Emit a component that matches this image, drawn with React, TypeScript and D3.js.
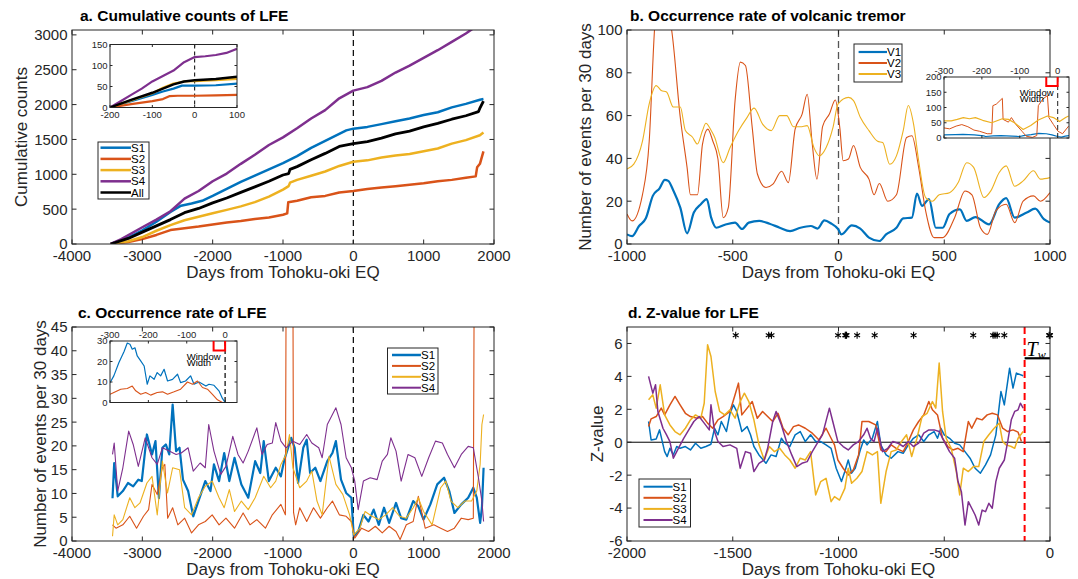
import React from 'react';
import * as d3 from 'd3';

type Pt = [number, number];

const FONT = '"Liberation Sans", Arial, Helvetica, sans-serif';
const AX = '#262626';
const BLUE = '#0072BD';
const ORANGE = '#D95319';
const YELLOW = '#EDB120';
const PURPLE = '#7E2F8E';

// ---------- panel a: cumulative counts ----------
const A_S1: Pt[] = [[-3450, 0], [-3200, 90], [-3000, 195], [-2800, 320], [-2600, 460], [-2450, 550], [-2300, 580], [-2150, 620], [-2000, 690], [-1800, 790], [-1600, 890], [-1400, 980], [-1200, 1070], [-1000, 1160], [-800, 1260], [-600, 1380], [-400, 1480], [-200, 1580], [-100, 1630], [0, 1655], [200, 1680], [400, 1720], [600, 1760], [800, 1800], [1000, 1850], [1200, 1890], [1400, 1960], [1600, 2010], [1800, 2070], [1850, 2080]];
const A_S2: Pt[] = [[-3450, 0], [-3200, 30], [-3000, 70], [-2800, 130], [-2600, 200], [-2400, 225], [-2200, 250], [-2000, 280], [-1800, 310], [-1600, 330], [-1400, 360], [-1200, 380], [-1000, 420], [-940, 440], [-925, 600], [-800, 620], [-600, 670], [-400, 690], [-200, 740], [0, 760], [200, 790], [400, 810], [600, 830], [800, 850], [1000, 870], [1200, 900], [1400, 920], [1600, 950], [1740, 970], [1760, 1100], [1800, 1150], [1850, 1330]];
const A_S3: Pt[] = [[-3450, 0], [-3200, 40], [-3000, 100], [-2800, 190], [-2600, 270], [-2400, 340], [-2200, 390], [-2000, 440], [-1800, 490], [-1600, 540], [-1400, 600], [-1200, 680], [-1000, 780], [-920, 830], [-900, 880], [-800, 920], [-600, 980], [-400, 1040], [-200, 1120], [0, 1180], [200, 1200], [400, 1240], [600, 1270], [800, 1290], [1000, 1330], [1200, 1370], [1400, 1440], [1600, 1490], [1800, 1560], [1850, 1600]];
const A_S4: Pt[] = [[-3450, 0], [-3300, 70], [-3000, 240], [-2800, 350], [-2600, 470], [-2400, 650], [-2200, 760], [-2000, 900], [-1800, 1010], [-1600, 1150], [-1400, 1280], [-1200, 1420], [-1000, 1530], [-800, 1660], [-600, 1800], [-400, 1920], [-200, 2090], [0, 2200], [200, 2250], [400, 2340], [600, 2460], [800, 2560], [1000, 2670], [1200, 2780], [1400, 2900], [1600, 3020], [1700, 3090], [1850, 3190]];
const A_ALL: Pt[] = [[-3450, 0], [-3200, 80], [-3000, 170], [-2800, 260], [-2600, 350], [-2400, 450], [-2200, 510], [-2000, 590], [-1800, 660], [-1600, 740], [-1400, 820], [-1200, 900], [-1000, 990], [-920, 1010], [-900, 1070], [-800, 1110], [-600, 1210], [-400, 1300], [-200, 1400], [0, 1440], [200, 1470], [400, 1520], [600, 1580], [800, 1620], [1000, 1680], [1200, 1730], [1400, 1790], [1600, 1840], [1780, 1900], [1800, 1950], [1850, 2050]];

const IA_S1: Pt[] = [[-200, 0], [-150, 15], [-100, 30], [-75, 38], [-50, 45], [-30, 52], [0, 52], [50, 53], [100, 57]];
const IA_S2: Pt[] = [[-200, 0], [-150, 8], [-100, 15], [-75, 20], [-60, 27], [-40, 28], [0, 28], [50, 29], [100, 30]];
const IA_S3: Pt[] = [[-200, 0], [-150, 17], [-100, 34], [-75, 47], [-50, 57], [-25, 62], [0, 63], [50, 65], [100, 68]];
const IA_S4: Pt[] = [[-200, 0], [-175, 15], [-150, 30], [-125, 45], [-100, 62], [-75, 75], [-50, 88], [-25, 108], [0, 120], [25, 122], [50, 125], [75, 130], [100, 140]];
const IA_ALL: Pt[] = [[-200, 0], [-150, 18], [-100, 35], [-75, 45], [-50, 55], [-25, 62], [0, 65], [50, 68], [100, 73]];

// ---------- panel b: volcanic tremor rate ----------
const B_V1: Pt[] = [[-1000, 4.5], [-976, 3.7], [-943, 8.4], [-911, 12], [-878, 22.5], [-846, 26], [-821, 30], [-805, 29.5], [-781, 25], [-748, 17], [-716, 5], [-684, 14.7], [-651, 18.6], [-623, 21], [-602, 12.3], [-578, 7.6], [-537, 9], [-489, 10], [-456, 7], [-424, 10], [-375, 10.8], [-326, 9.5], [-278, 7.6], [-229, 6], [-180, 7.6], [-131, 8.4], [-99, 7.2], [-67, 11], [-34, 9.5], [-2, 7], [14, 4.5], [63, 8.7], [103, 7.2], [144, 3], [193, 1.4], [225, 4.5], [274, 7.6], [306, 12], [347, 12.3], [371, 23.6], [395, 17.8], [428, 21], [460, 7.6], [493, 7.6], [525, 14], [574, 16.2], [606, 10.8], [647, 12.6], [712, 9.2], [760, 18.6], [793, 21.4], [833, 12.3], [890, 14.7], [930, 16.5], [971, 11.6], [1000, 10]];
const B_V2: Pt[] = [[-1000, 14], [-976, 10.8], [-927, 23], [-895, 48], [-870, 100], [-855, 118], [-820, 112], [-789, 100], [-748, 59], [-716, 35.8], [-700, 23], [-667, 23], [-643, 46.7], [-618, 53.7], [-594, 48], [-570, 39.7], [-545, 12.3], [-521, 17], [-489, 67], [-464, 85], [-440, 83.4], [-408, 54.5], [-383, 32.6], [-343, 26.4], [-310, 28], [-269, 34], [-237, 28.7], [-205, 53.7], [-172, 60.7], [-148, 70], [-124, 46.7], [-102, 30.3], [-75, 55], [-43, 60.7], [-15, 67.3], [6, 54.5], [22, 38.9], [47, 39.7], [71, 46], [103, 35.8], [144, 30.3], [168, 23], [193, 28.3], [233, 20], [274, 23], [322, 49.8], [347, 50.6], [379, 35.8], [412, 15.5], [452, 3], [493, 3], [549, 12.3], [598, 24.8], [631, 23], [671, 7.6], [704, 4.5], [744, 15.5], [793, 18.6], [833, 10], [873, 20], [922, 22.5], [955, 20], [1000, 24]];
const B_V3: Pt[] = [[-1000, 35], [-968, 37.3], [-927, 48], [-895, 65.5], [-862, 74], [-838, 71.7], [-813, 71], [-781, 64], [-748, 64], [-724, 53], [-691, 50], [-667, 46.7], [-643, 53], [-627, 56.4], [-602, 53], [-586, 50], [-545, 38], [-513, 45], [-472, 53], [-432, 59.2], [-399, 63.5], [-359, 56], [-318, 53], [-278, 60], [-245, 60], [-213, 54.8], [-180, 54.8], [-148, 55.3], [-116, 45], [-91, 41.2], [-59, 45], [-26, 54.5], [-2, 65.5], [47, 68.5], [71, 67], [103, 59.2], [144, 53], [185, 48], [209, 47.4], [242, 37.3], [274, 41.2], [306, 53], [330, 64.7], [355, 56], [379, 38.9], [412, 21.7], [444, 20], [476, 23], [525, 24], [566, 28.7], [606, 38], [639, 35.8], [688, 21.7], [720, 24.8], [760, 33.4], [793, 36.5], [833, 27], [873, 29.5], [922, 34.2], [955, 30.3], [1000, 31]];

const IB_V1: Pt[] = [[-300, 10], [-270, 11], [-250, 12], [-220, 10], [-195, 7], [-190, 5], [-170, 7], [-150, 8], [-120, 6], [-100, 5], [-90, 8], [-70, 11], [-50, 15], [-30, 14], [-15, 10], [0, 5], [10, 3], [20, 6], [30, 8]];
const IB_V2: Pt[] = [[-300, 33], [-285, 30], [-268, 39], [-253, 44], [-237, 37], [-221, 26], [-206, 22], [-186, 14], [-174, 14], [-171, 106], [-162, 111], [-146, 130], [-144, 61], [-130, 52], [-122, 67], [-110, 44], [-94, 22], [-83, 6], [-67, 2], [-55, 8], [-51, 106], [-39, 128], [-27, 139], [-23, 67], [-11, 44], [1, 22], [13, 14], [29, 39]];
const IB_V3: Pt[] = [[-300, 56], [-281, 56], [-265, 61], [-249, 67], [-233, 63], [-217, 67], [-198, 58], [-174, 50], [-146, 63], [-130, 61], [-114, 50], [-91, 28], [-71, 41], [-51, 59], [-27, 72], [-11, 67], [5, 54], [21, 67], [29, 72]];

// ---------- panel c: LFE rate ----------
const C_S1: Pt[] = [[-3424, 9], [-3400, 16.4], [-3350, 9.4], [-3277, 10.5], [-3204, 12.2], [-3130, 11.5], [-3057, 12.9], [-3008, 12.6], [-2935, 22.4], [-2862, 18.2], [-2813, 21], [-2764, 9], [-2715, 19.6], [-2666, 20.3], [-2617, 18.2], [-2569, 28.7], [-2520, 18.9], [-2471, 19.6], [-2422, 12.9], [-2349, 10.5], [-2276, 5.2], [-2202, 8.4], [-2105, 12.6], [-2031, 10.5], [-1982, 16.1], [-1909, 12.6], [-1836, 18.5], [-1763, 12.6], [-1689, 17.5], [-1592, 11.9], [-1494, 9.1], [-1396, 16.8], [-1323, 14.3], [-1274, 21], [-1201, 12.6], [-1103, 15.4], [-1030, 13.6], [-981, 17.1], [-883, 21.7], [-834, 19.6], [-786, 12.2], [-712, 19.6], [-663, 21.3], [-615, 14.3], [-541, 15.4], [-468, 12.6], [-370, 16.8], [-297, 18.5], [-248, 21], [-175, 12.9], [-102, 10.1], [-28, 9.1], [6, 1], [69, 2], [143, 5.5], [216, 4.1], [289, 6.6], [362, 3.4], [436, 7], [509, 3.8], [607, 8], [680, 4.8], [753, 4.5], [851, 8.4], [924, 7.3], [998, 4.5], [1095, 7.7], [1193, 11.9], [1290, 13.3], [1364, 10.5], [1437, 5.9], [1535, 7.7], [1633, 9.1], [1706, 11.2], [1755, 9.1], [1803, 3.8], [1828, 7], [1852, 15.4]];
const C_S2: Pt[] = [[-3424, 3.4], [-3375, 2.7], [-3277, 3.4], [-3179, 5.2], [-3082, 2.7], [-2984, 5.2], [-2911, 6.6], [-2862, 11.9], [-2788, 9.8], [-2715, 15.4], [-2680, 16.1], [-2640, 4.8], [-2569, 7], [-2495, 3.4], [-2398, 4.8], [-2300, 1.7], [-2202, 3.4], [-2105, 4.1], [-2007, 5.5], [-1909, 3.4], [-1811, 4.8], [-1689, 2.7], [-1567, 5.9], [-1470, 3.4], [-1372, 4.5], [-1250, 2.7], [-1152, 5.5], [-1030, 7.7], [-966, 5.5], [-950, 80], [-930, 95], [-905, 60], [-880, 90], [-862, 70], [-850, 6], [-820, 3.4], [-762, 7], [-663, 4.1], [-566, 7], [-468, 4.8], [-370, 7], [-297, 8.4], [-199, 5.5], [-102, 5.2], [-28, 4.1], [20, 0.6], [118, 2.7], [216, 2], [313, 3.1], [411, 1.7], [509, 3.1], [607, 2], [665, 0.3], [753, 3.4], [851, 4.1], [924, 9.4], [1022, 2.7], [1144, 3.4], [1242, 2.7], [1339, 2], [1437, 2.7], [1535, 4.8], [1633, 4.5], [1706, 4.8], [1722, 70], [1760, 80], [1852, 70]];
const C_S3: Pt[] = [[-3424, 1], [-3400, 5.5], [-3350, 3.4], [-3277, 4.5], [-3179, 9.1], [-3106, 7], [-3033, 8], [-2935, 12.2], [-2862, 13.6], [-2788, 5.5], [-2715, 16.8], [-2642, 10.1], [-2569, 15.4], [-2471, 15], [-2398, 7], [-2300, 5.5], [-2202, 9.1], [-2105, 11.5], [-2007, 12.6], [-1909, 9.1], [-1836, 7], [-1763, 10.8], [-1689, 6.2], [-1592, 8.4], [-1494, 6.6], [-1396, 9.1], [-1274, 13.6], [-1176, 11.2], [-1103, 12.6], [-1030, 16.1], [-957, 18.2], [-908, 22.4], [-859, 15.4], [-762, 11.2], [-663, 12.6], [-590, 14.7], [-517, 8.4], [-443, 5.5], [-346, 17.8], [-248, 11.9], [-150, 9.8], [-53, 5.5], [6, 1.3], [94, 2.7], [167, 6.2], [265, 5.2], [362, 4.5], [460, 5.5], [558, 7], [656, 5.2], [753, 4.8], [851, 7], [924, 9.1], [998, 6.2], [1120, 3.4], [1242, 11.2], [1315, 12.6], [1388, 8.4], [1486, 7], [1584, 8.4], [1681, 8.4], [1755, 10.5], [1803, 16.1], [1828, 24.5], [1852, 26.6]];
const C_S4: Pt[] = [[-3424, 18.2], [-3400, 20.6], [-3350, 10.5], [-3277, 15.4], [-3194, 23.1], [-3130, 20.3], [-3057, 15.7], [-2959, 21.7], [-2862, 17.5], [-2788, 16.1], [-2715, 19.6], [-2617, 18.9], [-2520, 18.2], [-2447, 18.5], [-2349, 19.6], [-2276, 14.7], [-2178, 16.4], [-2105, 15.4], [-2056, 24.5], [-1982, 18.9], [-1885, 14], [-1811, 15.7], [-1714, 22], [-1640, 18.2], [-1567, 16.4], [-1494, 18.9], [-1372, 23.8], [-1299, 18.2], [-1225, 20.3], [-1152, 20.6], [-1103, 24.9], [-1030, 21], [-957, 19.6], [-859, 21], [-762, 20.3], [-663, 22.4], [-590, 20.6], [-492, 19.6], [-443, 17.5], [-370, 24.5], [-248, 28], [-175, 24.5], [-102, 17.5], [-28, 15.4], [20, 12.6], [69, 6.6], [143, 12.6], [240, 13.3], [338, 12.9], [411, 16.8], [485, 18.2], [533, 21.7], [607, 18.9], [680, 12.6], [778, 18.2], [875, 17.5], [973, 13.6], [1071, 17.5], [1168, 21], [1266, 20.6], [1339, 18.2], [1437, 15.4], [1535, 18.2], [1633, 19.9], [1706, 19.6], [1779, 13.3], [1828, 8.4], [1852, 4.1]];

const IC_S1: Pt[] = [[-300, 9.7], [-290, 13], [-277, 19.4], [-263, 25], [-255, 29], [-248, 28.4], [-242, 26], [-235, 26.7], [-229, 22.7], [-220, 20.3], [-211, 17.8], [-203, 8.9], [-196, 13], [-185, 11.3], [-177, 14.6], [-168, 13], [-159, 16.2], [-150, 10.5], [-137, 11.3], [-124, 13.8], [-116, 9.7], [-103, 10.5], [-90, 13], [-81, 8.9], [-68, 10], [-50, 8], [-42, 8.9], [-29, 8.4], [-16, 5.7], [-7, 2], [0, 0], [30, 0]];
const IC_S2: Pt[] = [[-300, 4], [-290, 4.9], [-272, 6.5], [-255, 6.8], [-242, 8], [-233, 5.7], [-220, 4], [-207, 4.9], [-194, 3.6], [-177, 4.9], [-163, 5.2], [-150, 4], [-133, 5.2], [-116, 6.5], [-98, 10], [-85, 8.9], [-72, 10.5], [-59, 7.3], [-46, 6.5], [-33, 4], [-20, 1.3], [-7, 0], [30, 0]];

// ---------- panel d: Z-value ----------
const D_S1: Pt[] = [[-1898, 1.26], [-1886, 0.14], [-1862, 0.2], [-1846, 0.75], [-1822, -0.57], [-1810, -0.87], [-1797, -0.37], [-1781, -0.77], [-1765, -0.26], [-1749, -0.37], [-1724, -0.26], [-1700, -0.47], [-1676, -0.06], [-1651, -0.37], [-1627, -0.26], [-1603, -0.12], [-1586, 0.85], [-1570, 0.45], [-1554, 1.26], [-1530, 0.65], [-1513, 1.76], [-1497, 2.27], [-1481, 1.87], [-1457, 0.65], [-1432, 0.95], [-1416, 0.45], [-1400, -0.26], [-1376, -0.77], [-1343, -1.28], [-1319, -0.77], [-1295, -0.87], [-1270, 0.24], [-1254, -0.06], [-1230, -0.26], [-1205, 0.45], [-1181, 0.65], [-1157, 0.04], [-1132, 0.45], [-1108, 0.04], [-1084, 0.04], [-1059, -0.16], [-1035, -0.37], [-1011, -1.58], [-986, -2.39], [-970, -1.78], [-954, -1.08], [-938, -1.88], [-921, -1.58], [-897, -0.47], [-881, 0.14], [-865, -0.16], [-840, 0.24], [-816, 1.26], [-800, -0.16], [-775, -0.77], [-751, -0.97], [-719, -0.57], [-694, -0.67], [-670, -0.16], [-646, 0.24], [-621, 0.45], [-597, 0.04], [-573, 0.45], [-548, 0.65], [-532, 0.24], [-516, 0.85], [-500, 0.45], [-475, 0.24], [-451, -0.06], [-427, -0.16], [-402, -0.57], [-378, -0.97], [-354, -1.58], [-329, -1.88], [-305, -1.38], [-281, -0.77], [-256, 0.45], [-232, 3.08], [-216, 2.27], [-191, 4.5], [-175, 3.29], [-159, 4.2], [-127, 4.04]];
const D_S2: Pt[] = [[-1898, 0.95], [-1886, 1.42], [-1862, 1.56], [-1838, 2.07], [-1822, 1.66], [-1797, 2.27], [-1773, 2.78], [-1749, 2.27], [-1724, 1.76], [-1700, 1.56], [-1668, 1.46], [-1643, 1.56], [-1619, 1.16], [-1595, 0.85], [-1570, 1.36], [-1546, 1.56], [-1513, 1.87], [-1489, 2.88], [-1473, 3.59], [-1457, 1.66], [-1432, 2.07], [-1408, 2.47], [-1384, 1.46], [-1359, 1.87], [-1335, 1.56], [-1311, 1.26], [-1286, 1.76], [-1262, 0.85], [-1238, 0.45], [-1213, 0.95], [-1189, 1.05], [-1157, 0.85], [-1124, 0.55], [-1092, 0.14], [-1059, 0.85], [-1035, 0.24], [-1019, -0.16], [-1003, -1.08], [-978, -1.58], [-954, -1.99], [-930, -1.68], [-905, -0.77], [-889, 1.26], [-857, 1.26], [-824, 1.05], [-800, -0.47], [-775, -0.57], [-751, -0.16], [-727, -0.37], [-694, -0.57], [-670, 0.04], [-646, 0.75], [-621, 1.26], [-597, 1.66], [-573, 2.47], [-556, 1.97], [-532, 1.66], [-508, 0.24], [-483, -0.26], [-459, -0.47], [-435, -0.37], [-410, -0.57], [-386, 1.26], [-370, 0.85], [-346, 1.46], [-321, 1.36], [-297, 1.66], [-273, 1.76], [-248, 1.66], [-224, 0.85], [-200, 0.65], [-175, 0.75], [-151, 0.61], [-135, 0.04]];
const D_S3: Pt[] = [[-1898, 2.58], [-1878, 2.88], [-1862, 2.07], [-1843, 3.49], [-1822, 1.66], [-1797, 1.05], [-1773, 0.65], [-1749, 0.45], [-1724, 0.85], [-1700, 1.36], [-1676, 1.66], [-1651, 1.46], [-1635, 2.37], [-1619, 5.92], [-1603, 5.21], [-1583, 3.08], [-1562, 1.87], [-1538, 1.66], [-1513, 1.97], [-1489, 1.46], [-1465, 2.47], [-1445, 2.98], [-1424, 2.47], [-1400, 1.36], [-1376, -0.16], [-1351, -1.08], [-1327, -0.26], [-1303, -0.57], [-1278, -0.37], [-1254, -0.77], [-1230, -1.08], [-1205, -1.58], [-1181, -0.97], [-1157, -1.08], [-1132, -0.57], [-1108, -3.2], [-1084, -2.39], [-1059, -2.19], [-1035, -3.61], [-1019, -3.3], [-995, -3.51], [-970, -2.8], [-954, -1.58], [-938, -2.49], [-913, -2.19], [-889, -1.78], [-865, -0.57], [-840, -0.77], [-816, -0.57], [-800, -3.71], [-775, -1.78], [-751, -0.57], [-727, -0.47], [-702, 0.04], [-678, 0.45], [-654, -0.87], [-629, 0.24], [-605, 1.56], [-581, 1.76], [-556, 2.47], [-540, 2.07], [-524, 4.81], [-508, 1.87], [-491, 0.24], [-467, -0.37], [-443, -1.78], [-427, -3.2], [-410, -1.58], [-386, -1.78], [-362, -1.48], [-337, -1.48], [-313, 0.04], [-289, 0.45], [-264, 0.85], [-240, 1.16], [-224, 0.04], [-208, -0.16], [-183, -0.26], [-167, -0.37], [-151, 0.24], [-127, 0.65]];
const D_S4: Pt[] = [[-1898, 4.0], [-1878, 2.98], [-1865, 3.49], [-1854, 1.87], [-1830, 0.85], [-1813, 0.45], [-1797, 0.04], [-1781, -0.97], [-1757, -0.37], [-1732, 0.24], [-1708, 0.75], [-1684, 1.26], [-1659, 1.56], [-1635, 1.16], [-1611, 0.75], [-1603, 2.27], [-1586, 0.65], [-1570, 0.04], [-1546, -0.26], [-1513, -0.16], [-1481, -0.37], [-1465, -1.58], [-1440, -0.57], [-1416, -0.67], [-1400, -1.78], [-1376, -1.28], [-1351, -1.08], [-1335, -0.37], [-1311, 1.26], [-1295, 1.87], [-1270, 1.05], [-1246, 0.04], [-1221, -0.77], [-1197, -1.48], [-1173, -1.28], [-1148, -1.18], [-1124, -0.57], [-1100, -0.06], [-1076, 0.45], [-1043, 2.07], [-1027, 1.26], [-1003, 0.04], [-978, -0.26], [-954, -0.47], [-930, -0.16], [-905, 0.04], [-881, 0.45], [-865, 0.85], [-849, 0.24], [-832, 0.04], [-816, 0.85], [-792, -0.57], [-767, -0.37], [-743, 0.04], [-719, -0.06], [-694, -0.26], [-670, 0.04], [-646, -0.26], [-621, -0.06], [-597, 0.55], [-573, 0.75], [-548, 0.75], [-524, 0.65], [-500, 0.04], [-475, -0.57], [-451, -0.97], [-435, -2.39], [-419, -3.0], [-402, -5.03], [-386, -3.61], [-370, -4.01], [-354, -4.42], [-337, -5.03], [-321, -4.12], [-305, -4.22], [-289, -3.71], [-273, -4.01], [-256, -2.39], [-240, -1.58], [-216, -1.08], [-200, 0.04], [-183, 1.36], [-167, 1.87], [-151, 1.97], [-140, 2.37], [-127, 2.07]];

const STAR_DAYS = [-1486, -1330, -1317, -1002, -968, -965, -962, -912, -829, -645, -363, -269, -260, -250, -216, -4, -2, 0];
const STAR_Z = 6.5;
const TW_START = -120;
const TW_Z = 5.1;

// ---------- layout ----------
const PA = { l: 72, r: 494, t: 30, b: 244 };
const PB = { l: 627, r: 1050, t: 30, b: 244 };
const PC = { l: 72, r: 494, t: 327, b: 541 };
const PD = { l: 627, r: 1050, t: 327, b: 541 };
const IA = { l: 110, r: 237, t: 44.5, b: 107.5 };
const IB = { l: 944, r: 1069, t: 77, b: 138 };
const IC = { l: 110, r: 237, t: 341, b: 402.5 };

type Box = { l: number; r: number; t: number; b: number };
type Scale = d3.ScaleLinear<number, number>;

function Frame({ box, xs, ys, xt, yt, fs, tl, top = false, gap = 4.5 }: { box: Box; xs: Scale; ys: Scale; xt: number[]; yt: number[]; fs: number; tl: number; top?: boolean; gap?: number }) {
  return (
    <g fontFamily={FONT} fill={AX}>
      <rect x={box.l} y={box.t} width={box.r - box.l} height={box.b - box.t} fill="none" stroke={AX} strokeWidth={1} />
      {xt.map((v) => (
        <g key={'x' + v}>
          <line x1={xs(v)} x2={xs(v)} y1={box.b} y2={box.b - tl} stroke={AX} />
          <line x1={xs(v)} x2={xs(v)} y1={box.t} y2={box.t + tl} stroke={AX} />
          <text x={xs(v)} y={top ? box.t - fs * 0.35 : box.b + fs * 1.12} textAnchor="middle" fontSize={fs}>{v}</text>
        </g>
      ))}
      {yt.map((v) => (
        <g key={'y' + v}>
          <line x1={box.l} x2={box.l + tl} y1={ys(v)} y2={ys(v)} stroke={AX} />
          <line x1={box.r} x2={box.r - tl} y1={ys(v)} y2={ys(v)} stroke={AX} />
          <text x={box.l - gap} y={ys(v)} dy="0.36em" textAnchor="end" fontSize={fs}>{v}</text>
        </g>
      ))}
    </g>
  );
}

function Legend({ box, first, step, x0, x1, items }: { box: Box; first: number; step: number; x0: number; x1: number; items: { label: string; color: string; w: number }[] }) {
  return (
    <g fontFamily={FONT}>
      <rect x={box.l} y={box.t} width={box.r - box.l} height={box.b - box.t} fill="#fff" stroke={AX} strokeWidth={1} />
      {items.map((it, i) => (
        <g key={it.label}>
          <line x1={box.l + x0} x2={box.l + x1} y1={box.t + first + i * step} y2={box.t + first + i * step} stroke={it.color} strokeWidth={it.w} />
          <text x={box.l + x1} y={box.t + first + i * step} dy="0.36em" fontSize={11.5} fill="#000">{it.label}</text>
        </g>
      ))}
    </g>
  );
}

function Path({ data, xs, ys, color, w, clip, curve }: { data: Pt[]; xs: Scale; ys: Scale; color: string; w: number; clip: string; curve?: d3.CurveFactory }) {
  const gen = d3.line<Pt>().x((d) => xs(d[0])).y((d) => ys(d[1])).curve(curve || d3.curveLinear);
  return <path d={gen(data) || ''} fill="none" stroke={color} strokeWidth={w} strokeLinejoin="round" clipPath={`url(#${clip})`} />;
}

function ClipRect({ id, box }: { id: string; box: Box }) {
  return (
    <clipPath id={id}>
      <rect x={box.l} y={box.t} width={box.r - box.l} height={box.b - box.t} />
    </clipPath>
  );
}

function Title({ x, y, text }: { x: number; y: number; text: string }) {
  return <text x={x} y={y} fontFamily={FONT} fontWeight="bold" fontSize={15.5} fill="#000">{text}</text>;
}

function XLabel({ box, text }: { box: Box; text: string }) {
  return <text x={(box.l + box.r) / 2} y={box.b + 34} textAnchor="middle" fontFamily={FONT} fontSize={17} fill={AX}>{text}</text>;
}

function YLabel({ x, y, text }: { x: number; y: number; text: string }) {
  return <text transform={`translate(${x},${y}) rotate(-90)`} dy="0.36em" textAnchor="middle" fontFamily={FONT} fontSize={17} fill={AX}>{text}</text>;
}

function Asterisk({ cx, cy, r }: { cx: number; cy: number; r: number }) {
  const arms = [90, 30, 150].map((a) => {
    const dx = r * Math.cos((a * Math.PI) / 180);
    const dy = r * Math.sin((a * Math.PI) / 180);
    return `M${cx - dx},${cy - dy}L${cx + dx},${cy + dy}`;
  });
  return <path d={arms.join('')} stroke="#000" strokeWidth={1.1} fill="none" />;
}

export default function App() {
  const xa = d3.scaleLinear().domain([-4000, 2000]).range([PA.l, PA.r]);
  const ya = d3.scaleLinear().domain([0, 3070]).range([PA.b, PA.t]);
  const xia = d3.scaleLinear().domain([-200, 100]).range([IA.l, IA.r]);
  const yia = d3.scaleLinear().domain([0, 150]).range([IA.b, IA.t]);

  const xb = d3.scaleLinear().domain([-1000, 1000]).range([PB.l, PB.r]);
  const yb = d3.scaleLinear().domain([0, 100]).range([PB.b, PB.t]);
  const xib = d3.scaleLinear().domain([-300, 30]).range([IB.l, IB.r]);
  const yib = d3.scaleLinear().domain([0, 200]).range([IB.b, IB.t]);

  const xc = d3.scaleLinear().domain([-4000, 2000]).range([PC.l, PC.r]);
  const yc = d3.scaleLinear().domain([0, 45]).range([PC.b, PC.t]);
  const xic = d3.scaleLinear().domain([-300, 31]).range([IC.l, IC.r]);
  const yic = d3.scaleLinear().domain([0, 30]).range([IC.b, IC.t]);

  const xd = d3.scaleLinear().domain([-2000, 0]).range([PD.l, PD.r]);
  const yd = d3.scaleLinear().domain([-6, 7]).range([PD.b, PD.t]);

  const smooth = d3.curveMonotoneX;

  return (
    <svg width={1078} height={579} style={{ position: 'absolute', left: 0, top: 0, background: '#fff' }}>
      <defs>
        <ClipRect id="cA" box={PA} />
        <ClipRect id="cB" box={PB} />
        <ClipRect id="cC" box={PC} />
        <ClipRect id="cD" box={PD} />
        <ClipRect id="ciA" box={IA} />
        <ClipRect id="ciB" box={IB} />
        <ClipRect id="ciC" box={IC} />
      </defs>
      <rect width={1078} height={579} fill="#fff" />

      {/* ---- panel a ---- */}
      <Title x={80} y={21} text="a. Cumulative counts of LFE" />
      <line x1={xa(0)} x2={xa(0)} y1={PA.t} y2={PA.b} stroke="#000" strokeWidth={1.2} strokeDasharray="6,4" />
      <Path data={A_S1} xs={xa} ys={ya} color={BLUE} w={2.5} clip="cA" />
      <Path data={A_S2} xs={xa} ys={ya} color={ORANGE} w={2.5} clip="cA" />
      <Path data={A_S3} xs={xa} ys={ya} color={YELLOW} w={2.5} clip="cA" />
      <Path data={A_S4} xs={xa} ys={ya} color={PURPLE} w={2.5} clip="cA" />
      <Path data={A_ALL} xs={xa} ys={ya} color="#000" w={2.8} clip="cA" />
      <Frame box={PA} xs={xa} ys={ya} xt={[-4000, -3000, -2000, -1000, 0, 1000, 2000]} yt={[0, 500, 1000, 1500, 2000, 2500, 3000]} fs={15} tl={4.5} />
      <XLabel box={PA} text="Days from Tohoku-oki EQ" />
      <YLabel x={21} y={137} text="Cumulative counts" />
      <rect x={IA.l} y={IA.t} width={IA.r - IA.l} height={IA.b - IA.t} fill="#fff" />
      <line x1={xia(0)} x2={xia(0)} y1={IA.t} y2={IA.b} stroke="#000" strokeWidth={1} strokeDasharray="4,3" />
      <Path data={IA_S1} xs={xia} ys={yia} color={BLUE} w={2.2} clip="ciA" />
      <Path data={IA_S2} xs={xia} ys={yia} color={ORANGE} w={2.2} clip="ciA" />
      <Path data={IA_S3} xs={xia} ys={yia} color={YELLOW} w={2.2} clip="ciA" />
      <Path data={IA_S4} xs={xia} ys={yia} color={PURPLE} w={2.2} clip="ciA" />
      <Path data={IA_ALL} xs={xia} ys={yia} color="#000" w={2.5} clip="ciA" />
      <Frame box={IA} xs={xia} ys={yia} xt={[-200, -100, 0, 100]} yt={[0, 50, 100, 150]} fs={9.5} tl={2.5} gap={2.5} />
      <Legend box={{ l: 98, r: 149, t: 142, b: 199 }} first={5.7} step={11.2} x0={2.5} x1={33} items={[
        { label: 'S1', color: BLUE, w: 2.5 },
        { label: 'S2', color: ORANGE, w: 2.5 },
        { label: 'S3', color: YELLOW, w: 2.5 },
        { label: 'S4', color: PURPLE, w: 2.5 },
        { label: 'All', color: '#000', w: 2.5 },
      ]} />

      {/* ---- panel b ---- */}
      <Title x={630} y={21} text="b. Occurrence rate of volcanic tremor" />
      <line x1={xb(0)} x2={xb(0)} y1={PB.t} y2={PB.b} stroke="#555" strokeWidth={1.3} strokeDasharray="7,4" />
      <Path data={B_V1} xs={xb} ys={yb} color={BLUE} w={2.2} clip="cB" curve={smooth} />
      <Path data={B_V2} xs={xb} ys={yb} color={ORANGE} w={1.1} clip="cB" curve={smooth} />
      <Path data={B_V3} xs={xb} ys={yb} color={YELLOW} w={1.1} clip="cB" curve={smooth} />
      <Frame box={PB} xs={xb} ys={yb} xt={[-1000, -500, 0, 500, 1000]} yt={[0, 20, 40, 60, 80, 100]} fs={15} tl={4.5} />
      <XLabel box={PB} text="Days from Tohoku-oki EQ" />
      <YLabel x={585} y={137} text="Number of events per 30 days" />
      <Legend box={{ l: 854, r: 902, t: 44, b: 82 }} first={8} step={11} x0={4.6} x1={33} items={[
        { label: 'V1', color: BLUE, w: 2.2 },
        { label: 'V2', color: ORANGE, w: 2 },
        { label: 'V3', color: YELLOW, w: 2 },
      ]} />
      <rect x={IB.l} y={IB.t} width={IB.r - IB.l} height={IB.b - IB.t} fill="#fff" />
      <line x1={xib(0)} x2={xib(0)} y1={IB.t} y2={IB.b} stroke="#444" strokeWidth={1.2} strokeDasharray="5,3" />
      <Path data={IB_V1} xs={xib} ys={yib} color={BLUE} w={1.2} clip="ciB" />
      <Path data={IB_V2} xs={xib} ys={yib} color={ORANGE} w={1} clip="ciB" />
      <Path data={IB_V3} xs={xib} ys={yib} color={YELLOW} w={1.2} clip="ciB" />
      <Frame box={IB} xs={xib} ys={yib} xt={[-300, -200, -100, 0]} yt={[0, 50, 100, 150, 200]} fs={9.5} tl={2.5} top gap={2.5} />
      <path d={`M${xib(-30)},${IB.t}V${IB.t + 9}H${xib(0)}V${IB.t}`} fill="none" stroke="#f00" strokeWidth={2} />
      <text x={xib(-100)} y={IB.t + 19} fontFamily={FONT} fontSize={9.5} fill="#000">Window</text>
      <text x={xib(-100)} y={IB.t + 24.5} fontFamily={FONT} fontSize={9.5} fill="#000">Width</text>

      {/* ---- panel c ---- */}
      <Title x={78} y={318} text="c. Occurrence rate of LFE" />
      <line x1={xc(0)} x2={xc(0)} y1={PC.t} y2={PC.b} stroke="#000" strokeWidth={1.2} strokeDasharray="6,4" />
      <Path data={C_S1} xs={xc} ys={yc} color={BLUE} w={2.2} clip="cC" />
      <Path data={C_S2} xs={xc} ys={yc} color={ORANGE} w={1.1} clip="cC" />
      <Path data={C_S3} xs={xc} ys={yc} color={YELLOW} w={1.1} clip="cC" />
      <Path data={C_S4} xs={xc} ys={yc} color={PURPLE} w={1.1} clip="cC" />
      <Frame box={PC} xs={xc} ys={yc} xt={[-4000, -3000, -2000, -1000, 0, 1000, 2000]} yt={[0, 5, 10, 15, 20, 25, 30, 35, 40, 45]} fs={15} tl={4.5} />
      <XLabel box={PC} text="Days from Tohoku-oki EQ" />
      <YLabel x={39.5} y={434} text="Number of events per 30 days" />
      <Legend box={{ l: 387.5, r: 438, t: 348, b: 394 }} first={7} step={10.9} x0={4.5} x1={33.5} items={[
        { label: 'S1', color: BLUE, w: 2.5 },
        { label: 'S2', color: ORANGE, w: 2 },
        { label: 'S3', color: YELLOW, w: 2 },
        { label: 'S4', color: PURPLE, w: 2 },
      ]} />
      <rect x={IC.l} y={IC.t} width={IC.r - IC.l} height={IC.b - IC.t} fill="#fff" />
      <line x1={xic(0)} x2={xic(0)} y1={IC.t} y2={IC.b} stroke="#000" strokeWidth={1.2} strokeDasharray="5,3" />
      <Path data={IC_S1} xs={xic} ys={yic} color={BLUE} w={1.2} clip="ciC" />
      <Path data={IC_S2} xs={xic} ys={yic} color={ORANGE} w={1.1} clip="ciC" />
      <Frame box={IC} xs={xic} ys={yic} xt={[-300, -200, -100, 0]} yt={[0, 10, 20, 30]} fs={9.5} tl={2.5} top gap={2.5} />
      <path d={`M${xic(-30)},${IC.t}V${IC.t + 9.5}H${xic(0)}V${IC.t}`} fill="none" stroke="#f00" strokeWidth={2} />
      <text x={xic(-100)} y={IC.t + 19} fontFamily={FONT} fontSize={9.5} fill="#000">Window</text>
      <text x={xic(-100)} y={IC.t + 25} fontFamily={FONT} fontSize={9.5} fill="#000">Width</text>

      {/* ---- panel d ---- */}
      <Title x={628} y={318} text="d. Z-value for LFE" />
      <line x1={PD.l} x2={PD.r} y1={yd(0)} y2={yd(0)} stroke="#000" strokeWidth={1} />
      <Path data={D_S1} xs={xd} ys={yd} color={BLUE} w={1.5} clip="cD" />
      <Path data={D_S2} xs={xd} ys={yd} color={ORANGE} w={1.5} clip="cD" />
      <Path data={D_S3} xs={xd} ys={yd} color={YELLOW} w={1.5} clip="cD" />
      <Path data={D_S4} xs={xd} ys={yd} color={PURPLE} w={1.5} clip="cD" />
      <line x1={xd(TW_START)} x2={xd(TW_START)} y1={PD.t} y2={PD.b} stroke="#f00" strokeWidth={2} strokeDasharray="7,4" />
      <line x1={xd(TW_START)} x2={xd(0)} y1={yd(TW_Z)} y2={yd(TW_Z)} stroke="#000" strokeWidth={2.2} />
      <text x={xd(TW_START) + 2} y={yd(TW_Z) - 2.5} fontFamily='"Liberation Serif", "DejaVu Serif", serif' fontStyle="italic" fill="#000">
        <tspan fontSize={20}>T</tspan>
        <tspan fontSize={12} dy={3}>w</tspan>
      </text>
      {STAR_DAYS.map((d, i) => <Asterisk key={i} cx={xd(d)} cy={yd(STAR_Z)} r={3.4} />)}
      <Frame box={PD} xs={xd} ys={yd} xt={[-2000, -1500, -1000, -500, 0]} yt={[-6, -4, -2, 0, 2, 4, 6]} fs={15} tl={4.5} />
      <XLabel box={PD} text="Days from Tohoku-oki EQ" />
      <YLabel x={597} y={434} text="Z-value" />
      <Legend box={{ l: 639, r: 690.5, t: 479, b: 527 }} first={7.7} step={11.1} x0={4.5} x1={33.6} items={[
        { label: 'S1', color: BLUE, w: 2 },
        { label: 'S2', color: ORANGE, w: 2 },
        { label: 'S3', color: YELLOW, w: 2 },
        { label: 'S4', color: PURPLE, w: 2 },
      ]} />
    </svg>
  );
}
